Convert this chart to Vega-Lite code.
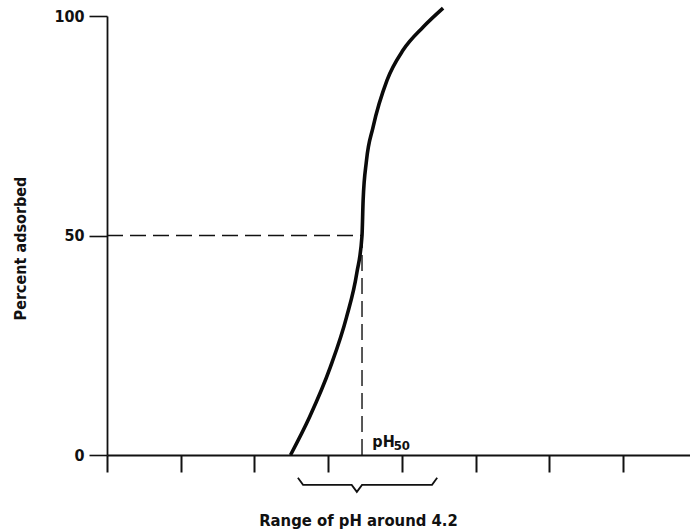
{
  "$schema": "https://vega.github.io/schema/vega-lite/v6.json",
  "width": 583,
  "height": 439,
  "autosize": "none",
  "padding": {"left": 107, "top": 16, "right": 0, "bottom": 75},
  "background": "white",
  "config": {
    "view": {"stroke": null},
    "font": "DejaVu Sans Condensed, DejaVu Sans",
    "axis": {"grid": false, "domainColor": "#111", "tickColor": "#111", "labelColor": "#111", "titleColor": "#111", "labelFont": "DejaVu Sans Condensed, DejaVu Sans", "titleFont": "DejaVu Sans Condensed, DejaVu Sans"}
  },
  "datasets": {
    "curve": [
      {"pH": 2.49, "pct": 0},
      {"pH": 2.75, "pct": 8.7},
      {"pH": 3.03, "pct": 20},
      {"pH": 3.25, "pct": 31.4},
      {"pH": 3.39, "pct": 41.5},
      {"pH": 3.46, "pct": 50},
      {"pH": 3.475, "pct": 58},
      {"pH": 3.52, "pct": 67},
      {"pH": 3.61, "pct": 74.7},
      {"pH": 3.8, "pct": 85.4},
      {"pH": 4.02, "pct": 92.3},
      {"pH": 4.29, "pct": 97.5},
      {"pH": 4.56, "pct": 101.8}
    ],
    "brace": [
      {"i": 0, "pH": 2.59, "pct": -5.2},
      {"i": 1, "pH": 2.66, "pct": -6.8},
      {"i": 2, "pH": 3.32, "pct": -6.8},
      {"i": 3, "pH": 3.39, "pct": -8.4},
      {"i": 4, "pH": 3.46, "pct": -6.8},
      {"i": 5, "pH": 4.41, "pct": -6.8},
      {"i": 6, "pH": 4.48, "pct": -5.2}
    ]
  },
  "layer": [
    {
      "data": {"values": [{"pH": 0, "pH2": 3.46, "pct": 50}]},
      "mark": {"type": "rule", "strokeDash": [16, 7], "strokeWidth": 1.6, "color": "#111", "clip": false},
      "encoding": {
        "x": {"field": "pH", "type": "quantitative", "scale": {"domain": [0, 7.91], "nice": false, "zero": false},
          "axis": {"values": [0, 1, 2, 3, 4, 5, 6, 7], "labels": false, "tickSize": 17, "tickWidth": 2, "domainWidth": 2.2, "title": "Range of pH around 4.2", "titleFontSize": 16.5, "titleFontWeight": "bold", "titleX": 251, "titleY": 70, "titleBaseline": "alphabetic", "titleAnchor": "start", "titleAlign": "center"}},
        "x2": {"field": "pH2"},
        "y": {"field": "pct", "type": "quantitative", "scale": {"domain": [0, 100], "nice": false},
          "axis": {"values": [0, 50, 100], "tickSize": 18, "tickWidth": 1.6, "domainWidth": 1.8, "labelFontSize": 16, "labelFontWeight": "bold", "labelPadding": 5, "title": "Percent adsorbed", "titleFontSize": 16, "titleFontWeight": "bold", "titleX": -87, "titleY": 232, "titleAngle": -90, "titleAlign": "center", "titleBaseline": "middle"}}
      }
    },
    {
      "data": {"values": [{"pH": 3.46, "pct": 0, "pct2": 50}]},
      "mark": {"type": "rule", "strokeDash": [16, 7], "strokeWidth": 1.4, "color": "#111", "clip": false},
      "encoding": {
        "x": {"field": "pH", "type": "quantitative"},
        "y": {"field": "pct", "type": "quantitative"},
        "y2": {"field": "pct2"}
      }
    },
    {
      "data": {"name": "curve"},
      "mark": {"type": "line", "interpolate": "monotone", "strokeWidth": 3.6, "color": "#0a0a0a", "clip": false},
      "encoding": {
        "x": {"field": "pH", "type": "quantitative"},
        "y": {"field": "pct", "type": "quantitative"}
      }
    },
    {
      "data": {"name": "brace"},
      "mark": {"type": "line", "strokeWidth": 1.8, "color": "#111", "clip": false},
      "encoding": {
        "x": {"field": "pH", "type": "quantitative"},
        "y": {"field": "pct", "type": "quantitative"},
        "order": {"field": "i", "type": "quantitative"}
      }
    },
    {
      "data": {"values": [{"pH": 3.6, "pct": 1.8, "label": "pH"}]},
      "mark": {"type": "text", "align": "left", "baseline": "alphabetic", "fontSize": 16, "fontWeight": "bold", "color": "#111"},
      "encoding": {
        "x": {"field": "pH", "type": "quantitative"},
        "y": {"field": "pct", "type": "quantitative"},
        "text": {"field": "label"}
      }
    },
    {
      "data": {"values": [{"pH": 3.89, "pct": 1.2, "label": "50"}]},
      "mark": {"type": "text", "align": "left", "baseline": "alphabetic", "fontSize": 13, "fontWeight": "bold", "color": "#111"},
      "encoding": {
        "x": {"field": "pH", "type": "quantitative"},
        "y": {"field": "pct", "type": "quantitative"},
        "text": {"field": "label"}
      }
    }
  ]
}
